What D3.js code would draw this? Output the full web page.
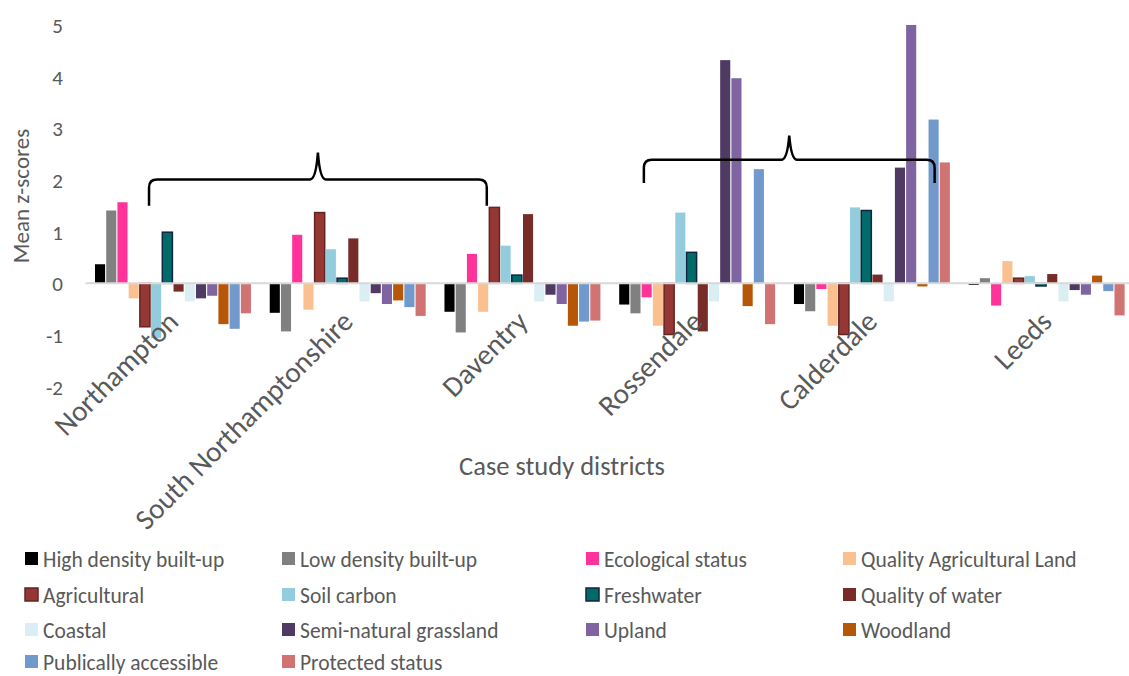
<!DOCTYPE html>
<html>
<head>
<meta charset="utf-8">
<script src="https://cdn.jsdelivr.net/npm/d3@7"></script>
<style>
  html, body { margin: 0; padding: 0; background: #fff; }
  svg text { font-family: Carlito, Calibri, Lato, "Open Sans", sans-serif; fill: #595959; }
</style>
</head>
<body>
<svg id="chart" width="1129" height="676"></svg>
<script>
// ---- Data ----
const districts = ["Northampton", "South Northamptonshire", "Daventry", "Rossendale", "Calderdale", "Leeds"];
const seriesNames = ["High density built-up", "Low density built-up", "Ecological status", "Quality Agricultural Land",
  "Agricultural", "Soil carbon", "Freshwater", "Quality of water", "Coastal", "Semi-natural grassland",
  "Upland", "Woodland", "Publically accessible", "Protected status"];
const highDensity     = [0.37, -0.57, -0.55, -0.41, -0.40, -0.03];
const lowDensity      = [1.41, -0.93, -0.95, -0.58, -0.54, 0.10];
const ecological      = [1.57, 0.94, 0.57, -0.27, -0.11, -0.43];
const qualityAgri     = [-0.29, -0.51, -0.55, -0.82, -0.82, 0.43];
const agricultural    = [-0.84, 1.37, 1.47, -0.99, -0.99, 0.10];
const soilCarbon      = [-1.06, 0.66, 0.73, 1.37, 1.47, 0.14];
const freshwater      = [0.99, 0.10, 0.16, 0.60, 1.41, -0.05];
const qualityWater    = [-0.16, 0.87, 1.34, -0.93, 0.17, 0.18];
const coastal         = [-0.35, -0.35, -0.35, -0.35, -0.35, -0.35];
const semiNatural     = [-0.29, -0.19, -0.22, 4.32, 2.24, -0.13];
const upland          = [-0.24, -0.40, -0.40, 3.97, 5.00, -0.22];
const woodland        = [-0.79, -0.33, -0.82, -0.44, -0.06, 0.15];
const publicAccess    = [-0.88, -0.46, -0.74, 2.21, 3.17, -0.15];
const protectedStatus = [-0.58, -0.63, -0.72, -0.79, 2.34, -0.62];
const yTicks = [-2, -1, 0, 1, 2, 3, 4, 5];
const yTitle = "Mean z-scores";
const xTitle = "Case study districts";
// Brace annotations: [first district, last district] groups
const braceGroups = [["Northampton", "Daventry"], ["Rossendale", "Calderdale"]];

// ---- Styles ----
const seriesValues = [highDensity, lowDensity, ecological, qualityAgri, agricultural, soilCarbon, freshwater,
  qualityWater, coastal, semiNatural, upland, woodland, publicAccess, protectedStatus];
const colors = ["#000000", "#808080", "#FF3399", "#FAC090", "#953735", "#93CDDD", "#006B68",
  "#772C2A", "#DBEEF4", "#4F3A63", "#8064A2", "#B65708", "#7199CB", "#D07372"];
const strokes = {4: "#632523", 6: "#10253F"};

const svg = d3.select("#chart");
svg.append("rect").attr("width", 1129).attr("height", 676).attr("fill", "#fff");

const x0 = d3.scaleBand().domain(districts).range([85.6, 1134]).paddingInner(0).paddingOuter(0);
const inset = 9.4;
const x1 = d3.scaleBand().domain(seriesNames).range([inset, x0.bandwidth() - inset]).paddingInner(0.1).paddingOuter(0);
const y = d3.scaleLinear().domain([-2, 5]).range([386.7, 25]);

// Y axis tick labels
const yAxis = d3.axisLeft(y).tickValues(yTicks).tickSize(0).tickPadding(0)
  .tickFormat(d => d < 0 ? "-" + Math.abs(d) : String(d));
const yg = svg.append("g").attr("transform", "translate(63,0)").call(yAxis);
yg.select(".domain").remove();
yg.selectAll("text").style("font-size", "21px").attr("fill", "#595959").attr("dy", "0.36em")
  .style("font-family", "Carlito, Calibri, Lato, sans-serif");

// Bars
const plot = svg.append("g");
seriesNames.forEach((s, si) => {
  const g = plot.append("g");
  g.selectAll("rect").data(seriesValues[si]).join("rect")
    .attr("x", (d, i) => x0(districts[i]) + x1(s))
    .attr("width", x1.bandwidth())
    .attr("y", d => y(Math.max(0, d)))
    .attr("height", d => Math.abs(y(d) - y(0)))
    .attr("fill", colors[si])
    .attr("stroke", strokes[si] || "none")
    .attr("stroke-width", strokes[si] ? 1.5 : 0);
});

// X axis line
svg.append("line").attr("x1", x0.range()[0]).attr("x2", x0.range()[1])
  .attr("y1", y(0)).attr("y2", y(0)).attr("stroke", "#D9D9D9").attr("stroke-width", 2);

// X category labels (rotated)
svg.append("g").selectAll("text").data(districts).join("text")
  .attr("transform", d => `translate(${x0(d) + x0.bandwidth() / 2 + 7},${y(0) + 40}) rotate(-45)`)
  .attr("text-anchor", "end")
  .style("font-size", "29px")
  .text(d => d);

// Axis titles
svg.append("text").attr("x", 562).attr("y", 475).attr("text-anchor", "middle")
  .style("font-size", "26.5px").text(xTitle);
svg.append("text").attr("transform", "translate(29,196) rotate(-90)").attr("text-anchor", "middle")
  .style("font-size", "23px").text(yTitle);

// Braces
function bracePath(xa, xb, yBottom, yLine, yPeak) {
  const xm = (xa + xb) / 2, r = 8;
  return `M${xa},${yBottom} L${xa},${yLine + r} Q${xa},${yLine} ${xa + r},${yLine}` +
    ` L${xm - 8},${yLine} Q${xm - 2},${yLine} ${xm},${yPeak}` +
    ` Q${xm + 2},${yLine} ${xm + 8},${yLine} L${xb - r},${yLine} Q${xb},${yLine} ${xb},${yLine + r} L${xb},${yBottom}`;
}
const braceLevels = [[1.5, 2.01, 2.53], [1.94, 2.39, 2.86]];
const braceFrac = [[0.363, 0.296], [0.195, 0.859]];
braceGroups.forEach((bg, i) => {
  const xa = x0(bg[0]) + x0.bandwidth() * braceFrac[i][0];
  const xb = x0(bg[1]) + x0.bandwidth() * braceFrac[i][1];
  const lv = braceLevels[i];
  svg.append("path").attr("d", bracePath(xa, xb, y(lv[0]), y(lv[1]), y(lv[2])))
    .attr("fill", "none").attr("stroke", "#000").attr("stroke-width", 2.5);
});

// Legend
const legendCols = [25, 282, 586, 843];
const legendRows = [559, 595, 630, 662];
const leg = svg.append("g");
seriesNames.forEach((s, i) => {
  const cx = legendCols[i % 4], cy = legendRows[Math.floor(i / 4)];
  leg.append("rect").attr("x", cx).attr("y", cy - 7).attr("width", 13).attr("height", 13)
    .attr("fill", colors[i]).attr("stroke", strokes[i] || "none").attr("stroke-width", strokes[i] ? 1.5 : 0);
  leg.append("text").attr("x", cx + 18).attr("y", cy).attr("dy", "0.35em")
    .style("font-size", "21.5px").text(s);
});
</script>
</body>
</html>
